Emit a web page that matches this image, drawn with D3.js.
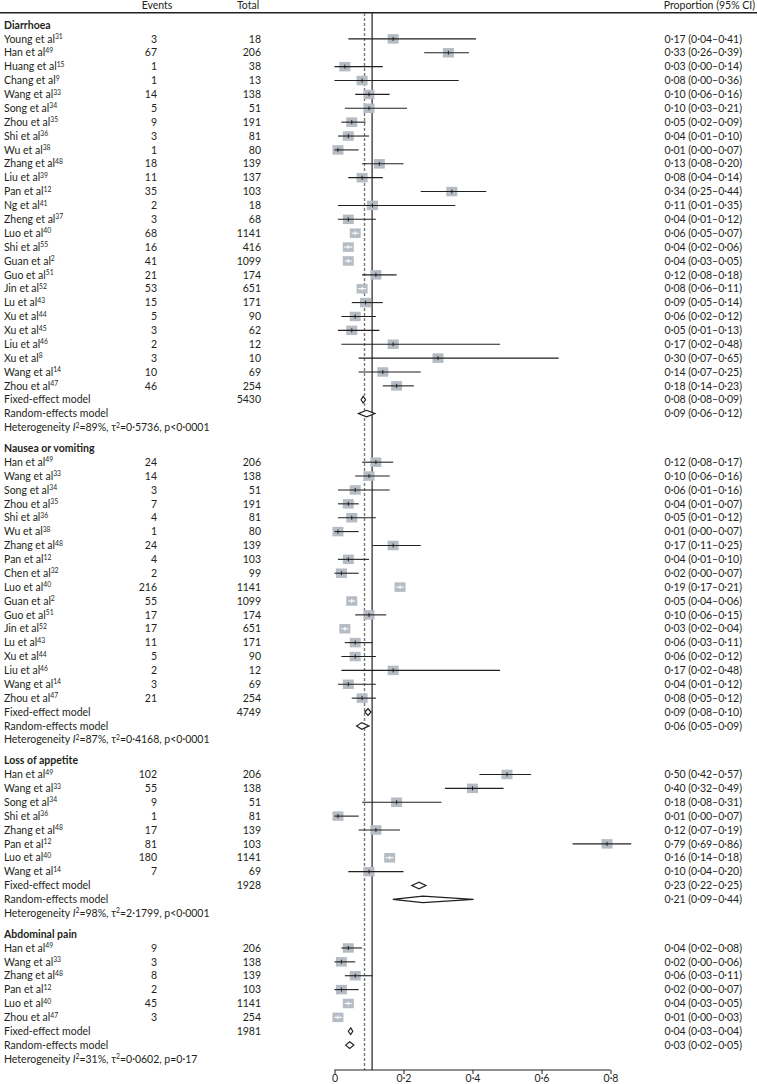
<!DOCTYPE html>
<html>
<head>
<meta charset="utf-8">
<title>Forest plot of gastrointestinal symptoms</title>
<script src="https://cdn.jsdelivr.net/npm/d3@7"></script>
<style>
  body { margin: 0; background: #fff; }
  svg text { font-family: Lato, "Open Sans", sans-serif; font-size: 10.5px; fill: #231f20; }
  .bold { font-weight: bold; }
</style>
</head>
<body>
<div id="chart"></div>
<script>

// section titles
var sections = ["Diarrhoea", "Nausea or vomiting", "Loss of appetite", "Abdominal pain"];

// study rows: [name, ref, events, total, estimate, lower, upper]
var diarrhoea = [
  ["Young et al", 31, 3, 18, 0.17, 0.04, 0.41],
  ["Han et al", 49, 67, 206, 0.33, 0.26, 0.39],
  ["Huang et al", 15, 1, 38, 0.03, 0.00, 0.14],
  ["Chang et al", 9, 1, 13, 0.08, 0.00, 0.36],
  ["Wang et al", 33, 14, 138, 0.10, 0.06, 0.16],
  ["Song et al", 34, 5, 51, 0.10, 0.03, 0.21],
  ["Zhou et al", 35, 9, 191, 0.05, 0.02, 0.09],
  ["Shi et al", 36, 3, 81, 0.04, 0.01, 0.10],
  ["Wu et al", 38, 1, 80, 0.01, 0.00, 0.07],
  ["Zhang et al", 48, 18, 139, 0.13, 0.08, 0.20],
  ["Liu et al", 39, 11, 137, 0.08, 0.04, 0.14],
  ["Pan et al", 12, 35, 103, 0.34, 0.25, 0.44],
  ["Ng et al", 41, 2, 18, 0.11, 0.01, 0.35],
  ["Zheng et al", 37, 3, 68, 0.04, 0.01, 0.12],
  ["Luo et al", 40, 68, 1141, 0.06, 0.05, 0.07],
  ["Shi et al", 55, 16, 416, 0.04, 0.02, 0.06],
  ["Guan et al", 2, 41, 1099, 0.04, 0.03, 0.05],
  ["Guo et al", 51, 21, 174, 0.12, 0.08, 0.18],
  ["Jin et al", 52, 53, 651, 0.08, 0.06, 0.11],
  ["Lu et al", 43, 15, 171, 0.09, 0.05, 0.14],
  ["Xu et al", 44, 5, 90, 0.06, 0.02, 0.12],
  ["Xu et al", 45, 3, 62, 0.05, 0.01, 0.13],
  ["Liu et al", 46, 2, 12, 0.17, 0.02, 0.48],
  ["Xu et al", 8, 3, 10, 0.30, 0.07, 0.65],
  ["Wang et al", 14, 10, 69, 0.14, 0.07, 0.25],
  ["Zhou et al", 47, 46, 254, 0.18, 0.14, 0.23]
];

var nausea = [
  ["Han et al", 49, 24, 206, 0.12, 0.08, 0.17],
  ["Wang et al", 33, 14, 138, 0.10, 0.06, 0.16],
  ["Song et al", 34, 3, 51, 0.06, 0.01, 0.16],
  ["Zhou et al", 35, 7, 191, 0.04, 0.01, 0.07],
  ["Shi et al", 36, 4, 81, 0.05, 0.01, 0.12],
  ["Wu et al", 38, 1, 80, 0.01, 0.00, 0.07],
  ["Zhang et al", 48, 24, 139, 0.17, 0.11, 0.25],
  ["Pan et al", 12, 4, 103, 0.04, 0.01, 0.10],
  ["Chen et al", 32, 2, 99, 0.02, 0.00, 0.07],
  ["Luo et al", 40, 216, 1141, 0.19, 0.17, 0.21],
  ["Guan et al", 2, 55, 1099, 0.05, 0.04, 0.06],
  ["Guo et al", 51, 17, 174, 0.10, 0.06, 0.15],
  ["Jin et al", 52, 17, 651, 0.03, 0.02, 0.04],
  ["Lu et al", 43, 11, 171, 0.06, 0.03, 0.11],
  ["Xu et al", 44, 5, 90, 0.06, 0.02, 0.12],
  ["Liu et al", 46, 2, 12, 0.17, 0.02, 0.48],
  ["Wang et al", 14, 3, 69, 0.04, 0.01, 0.12],
  ["Zhou et al", 47, 21, 254, 0.08, 0.05, 0.12]
];

var appetite = [
  ["Han et al", 49, 102, 206, 0.50, 0.42, 0.57],
  ["Wang et al", 33, 55, 138, 0.40, 0.32, 0.49],
  ["Song et al", 34, 9, 51, 0.18, 0.08, 0.31],
  ["Shi et al", 36, 1, 81, 0.01, 0.00, 0.07],
  ["Zhang et al", 48, 17, 139, 0.12, 0.07, 0.19],
  ["Pan et al", 12, 81, 103, 0.79, 0.69, 0.86],
  ["Luo et al", 40, 180, 1141, 0.16, 0.14, 0.18],
  ["Wang et al", 14, 7, 69, 0.10, 0.04, 0.20]
];

var abdominal = [
  ["Han et al", 49, 9, 206, 0.04, 0.02, 0.08],
  ["Wang et al", 33, 3, 138, 0.02, 0.00, 0.06],
  ["Zhang et al", 48, 8, 139, 0.06, 0.03, 0.11],
  ["Pan et al", 12, 2, 103, 0.02, 0.00, 0.07],
  ["Luo et al", 40, 45, 1141, 0.04, 0.03, 0.05],
  ["Zhou et al", 47, 3, 254, 0.01, 0.00, 0.03]
];

// pooled results as printed: [estimate, lower, upper]
var pooledTotals = [5430, 4749, 1928, 1981];
var fixedText = [[0.08, 0.08, 0.09], [0.09, 0.08, 0.10], [0.23, 0.22, 0.25], [0.04, 0.03, 0.04]];
var randomText = [[0.09, 0.06, 0.12], [0.06, 0.05, 0.09], [0.21, 0.09, 0.44], [0.03, 0.02, 0.05]];
// diamonds as drawn in the plot: [estimate, lower, upper]
var fixedDiamond = [[0.083, 0.077, 0.090], [0.097, 0.088, 0.106], [0.245, 0.224, 0.265], [0.047, 0.040, 0.053]];
var randomDiamond = [[0.093, 0.069, 0.117], [0.079, 0.064, 0.100], [0.256, 0.169, 0.403], [0.044, 0.032, 0.056]];
// heterogeneity
var hetI2 = ["89%", "87%", "98%", "31%"];
var hetTau2 = ["0·5736", "0·4168", "2·1799", "0·0602"];
var hetP = ["p<0·0001", "p<0·0001", "p<0·0001", "p=0·17"];

// reference lines
var refDashed = 0.087;
var refSolid = 0.109;
var xTicks = [0, 0.2, 0.4, 0.6, 0.8];

var allSections = [diarrhoea, nausea, appetite, abdominal];

function fmt(v) { return v.toFixed(2).replace(".", "·"); }
function ciText(a) { return fmt(a[0]) + " (" + fmt(a[1]) + "–" + fmt(a[2]) + ")"; }

function forestPlot(id, width, height)
{
    var svg = d3.select(id).append("svg")
        .attr("width", width)
        .attr("height", height);

    // lay out rows, with a bit of extra space between sections
    var rows = [];
    var u = 0;
    allSections.forEach(function(studies, s) {
        rows.push({ type: "header", u: u, s: s });
        studies.forEach(function(d) {
            u += 1;
            rows.push({ type: "study", u: u, d: d });
        });
        rows.push({ type: "fixed", u: u + 1, s: s });
        rows.push({ type: "random", u: u + 2, s: s });
        rows.push({ type: "het", u: u + 3, s: s });
        u += 4.5;
    });
    var lastU = u - 1.5;

    var x = d3.scaleLinear().domain([0, 0.8]).range([334.5, 610.5]);
    var y = d3.scaleLinear().domain([0, lastU]).range([25, 1059]);
    var axisY = 1070;

    var colName = 4, colEvents = 157, colTotal = 261, colCI = 742;

    // column headers
    var head = svg.append("g");
    head.append("text").attr("x", 157).attr("y", 5).attr("dy", "0.35em")
        .attr("text-anchor", "middle").text("Events");
    head.append("text").attr("x", 248).attr("y", 5).attr("dy", "0.35em")
        .attr("text-anchor", "middle").text("Total");
    head.append("text").attr("x", 755).attr("y", 5).attr("dy", "0.35em")
        .attr("text-anchor", "end").text("Proportion (95% CI)");
    svg.append("line").attr("x1", 0).attr("x2", width)
        .attr("y1", 12.7).attr("y2", 12.7)
        .attr("stroke", "#231f20").attr("stroke-width", 1.4);

    // reference lines
    svg.append("line")
        .attr("x1", x(refDashed)).attr("x2", x(refDashed))
        .attr("y1", 13).attr("y2", axisY)
        .attr("stroke", "#777").attr("stroke-width", 1.4)
        .attr("stroke-dasharray", "3,2");
    svg.append("line")
        .attr("x1", x(refSolid)).attr("x2", x(refSolid))
        .attr("y1", 13).attr("y2", axisY)
        .attr("stroke", "#231f20").attr("stroke-width", 1.2);

    var g = svg.selectAll(".row")
        .data(rows)
      .enter().append("g")
        .attr("class", "row")
        .attr("transform", function(r) { return "translate(0," + y(r.u) + ")"; });

    // labels
    g.each(function(r) {
        var row = d3.select(this);
        var t = row.append("text").attr("x", colName).attr("dy", "0.35em");
        if (r.type === "header") {
            t.attr("class", "bold").text(sections[r.s]);
        } else if (r.type === "study") {
            t.text(r.d[0]);
            t.append("tspan").attr("dy", -3.5).style("font-size", "6.8px").text(r.d[1]);
            row.append("text").attr("x", colEvents).attr("dy", "0.35em")
                .attr("text-anchor", "end").text(r.d[2]);
            row.append("text").attr("x", colTotal).attr("dy", "0.35em")
                .attr("text-anchor", "end").text(r.d[3]);
            row.append("text").attr("x", colCI).attr("dy", "0.35em")
                .attr("text-anchor", "end").text(ciText(r.d.slice(4)));
        } else if (r.type === "fixed") {
            t.text("Fixed-effect model");
            row.append("text").attr("x", colTotal).attr("dy", "0.35em")
                .attr("text-anchor", "end").text(pooledTotals[r.s]);
            row.append("text").attr("x", colCI).attr("dy", "0.35em")
                .attr("text-anchor", "end").text(ciText(fixedText[r.s]));
        } else if (r.type === "random") {
            t.text("Random-effects model");
            row.append("text").attr("x", colCI).attr("dy", "0.35em")
                .attr("text-anchor", "end").text(ciText(randomText[r.s]));
        } else {
            t.text("Heterogeneity ");
            t.append("tspan").style("font-style", "italic").text("I");
            t.append("tspan").attr("dy", -3.5).style("font-size", "6.8px").text("2");
            t.append("tspan").attr("dy", 3.5).text("=" + hetI2[r.s] + ", τ");
            t.append("tspan").attr("dy", -3.5).style("font-size", "6.8px").text("2");
            t.append("tspan").attr("dy", 3.5).text("=" + hetTau2[r.s] + ",  " + hetP[r.s]);
        }
    });

    // study boxes and confidence intervals
    var boxW = 11, boxH = 9.5;
    var studies = g.filter(function(r) { return r.type === "study"; });
    studies.append("rect")
        .attr("x", function(r) { return x(r.d[4]) - boxW / 2; })
        .attr("y", -boxH / 2)
        .attr("width", boxW).attr("height", boxH)
        .attr("fill", "#b5bcc4");
    studies.each(function(r) {
        var row = d3.select(this);
        var cx = x(r.d[4]);
        var x1 = x(r.d[5]), x2 = x(r.d[6]);
        // narrow intervals of the big studies are drawn in white inside the box
        var inside = x2 - x1 < 18;
        var col = inside ? "#fff" : "#231f20";
        if (inside) {
            x1 = Math.max(x1, cx - boxW / 2 + 1.5);
            x2 = Math.min(x2, cx + boxW / 2 - 1.5);
        }
        row.append("line")
            .attr("x1", x1).attr("x2", x2)
            .attr("stroke", col).attr("stroke-width", 1.1);
        row.append("line")
            .attr("x1", cx).attr("x2", cx)
            .attr("y1", -2).attr("y2", 2)
            .attr("stroke", col).attr("stroke-width", 1);
    });

    // pooled diamonds
    g.filter(function(r) { return r.type === "fixed" || r.type === "random"; })
        .append("path")
        .attr("d", function(r) {
            var v = r.type === "fixed" ? fixedDiamond[r.s] : randomDiamond[r.s];
            var h = 3.3;
            return "M" + x(v[1]) + ",0L" + x(v[0]) + "," + (-h) + "L" + x(v[2]) + ",0L" + x(v[0]) + "," + h + "Z";
        })
        .attr("fill", "#fff").attr("stroke", "#231f20").attr("stroke-width", 1.2);

    // x axis
    var axis = svg.append("g")
        .attr("transform", "translate(0," + axisY + ")")
        .call(d3.axisBottom(x).tickValues(xTicks).tickSize(4)
              .tickFormat(function(d) { return d === 0 ? "0" : d3.format(".1f")(d).replace(".", "·"); }));
    axis.select(".domain").attr("stroke", "#231f20").attr("stroke-width", 1.2)
        .attr("d", "M" + x(0) + ",0H" + x(0.8));
    axis.selectAll(".tick line").attr("stroke", "#231f20");
    axis.selectAll(".tick text")
        .attr("y", 5)
        .style("font-family", "Lato, 'Open Sans', sans-serif")
        .style("font-size", "10.5px")
        .attr("fill", "#231f20");
}

forestPlot('#chart', 757, 1084);
</script>
</body>
</html>
